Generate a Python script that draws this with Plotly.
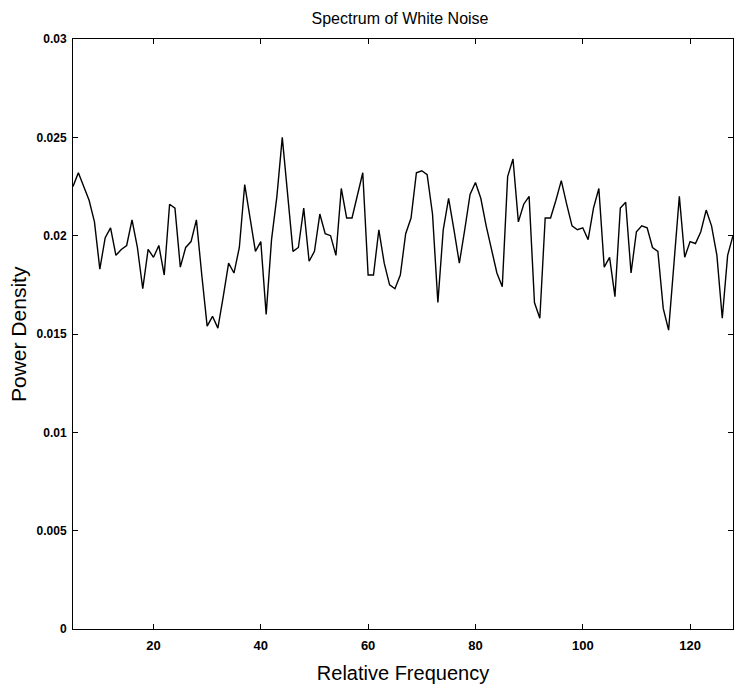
import plotly.graph_objects as go

freq = list(range(5, 129))
power = [
    0.0225, 0.0232, 0.0225, 0.0218, 0.0207, 0.0183, 0.0199, 0.0204, 0.0190, 0.0193,
    0.0195, 0.0208, 0.0194, 0.0173, 0.0193, 0.0189, 0.0195, 0.0180, 0.0216, 0.0214,
    0.0184, 0.0194, 0.0197, 0.0208, 0.0180, 0.0154, 0.0159, 0.0153, 0.0169, 0.0186,
    0.0181, 0.0194, 0.0226, 0.0208, 0.0192, 0.0197, 0.0160, 0.0198, 0.0220, 0.0250,
    0.0221, 0.0192, 0.0194, 0.0214, 0.0187, 0.0192, 0.0211, 0.0201, 0.0200, 0.0190,
    0.0224, 0.0209, 0.0209, 0.0220, 0.0232, 0.0180, 0.0180, 0.0203, 0.0186, 0.0175,
    0.0173, 0.0180, 0.0201, 0.0209, 0.0232, 0.0233, 0.0231, 0.0211, 0.0166, 0.0203,
    0.0219, 0.0203, 0.0186, 0.0203, 0.0221, 0.0227, 0.0219, 0.0205, 0.0193, 0.0181,
    0.0174, 0.0230, 0.0239, 0.0207, 0.0216, 0.0220, 0.0166, 0.0158, 0.0209, 0.0209,
    0.0218, 0.0228, 0.0216, 0.0205, 0.0203, 0.0204, 0.0198, 0.0214, 0.0224, 0.0184,
    0.0189, 0.0169, 0.0214, 0.0217, 0.0181, 0.0202, 0.0205, 0.0204, 0.0194, 0.0192,
    0.0163, 0.0152, 0.0186, 0.0220, 0.0189, 0.0197, 0.0196, 0.0202, 0.0213, 0.0205,
    0.0190, 0.0158, 0.0190, 0.0200,
]

x_ticks = [20, 40, 60, 80, 100, 120]
y_ticks = [0, 0.005, 0.01, 0.015, 0.02, 0.025, 0.03]
y_tick_text = ["0", "0.005", "0.01", "0.015", "0.02", "0.025", "0.03"]

fig = go.Figure()
fig.add_trace(go.Scatter(
    x=freq, y=power, mode="lines",
    line=dict(color="black", width=1.4),
    showlegend=False, hoverinfo="skip",
))

font_family = "Liberation Sans, Arial, sans-serif"

fig.update_layout(
    width=734, height=686,
    margin=dict(l=73, r=1, t=39, b=57),
    paper_bgcolor="white", plot_bgcolor="white",
    font=dict(family=font_family, color="black"),
    title=dict(text="Spectrum of White Noise", x=0.545, xanchor="center",
               y=1 - 18 / 686, yanchor="middle",
               font=dict(size=16, family=font_family, color="black")),
    annotations=[dict(
        text="Power Density", textangle=-90,
        xref="paper", yref="paper", x=-55 / 660, y=0.5,
        xanchor="center", yanchor="middle", showarrow=False,
        font=dict(size=21, family=font_family, color="black"),
    )],
)
fig.update_xaxes(
    range=[5, 128], tickvals=x_ticks,
    ticks="inside", ticklen=5, tickcolor="black", tickwidth=1,
    showline=True, linecolor="black", linewidth=1, mirror="ticks",
    showgrid=False, zeroline=False, ticklabelstandoff=4,
    tickfont=dict(size=13, family=font_family, color="black", weight="bold"),
    title=dict(text="Relative Frequency", standoff=14,
               font=dict(size=20, family=font_family, color="black")),
)
fig.update_yaxes(
    range=[0, 0.03], tickvals=y_ticks, ticktext=y_tick_text,
    ticks="inside", ticklen=5, tickcolor="black", tickwidth=1,
    showline=True, linecolor="black", linewidth=1, mirror="ticks",
    showgrid=False, zeroline=False, ticklabelstandoff=3,
    tickfont=dict(size=12, family=font_family, color="black", weight="bold"),
)

fig.write_html("out.html", config={"displayModeBar": False},
               post_script="document.body.style.margin='0';")
